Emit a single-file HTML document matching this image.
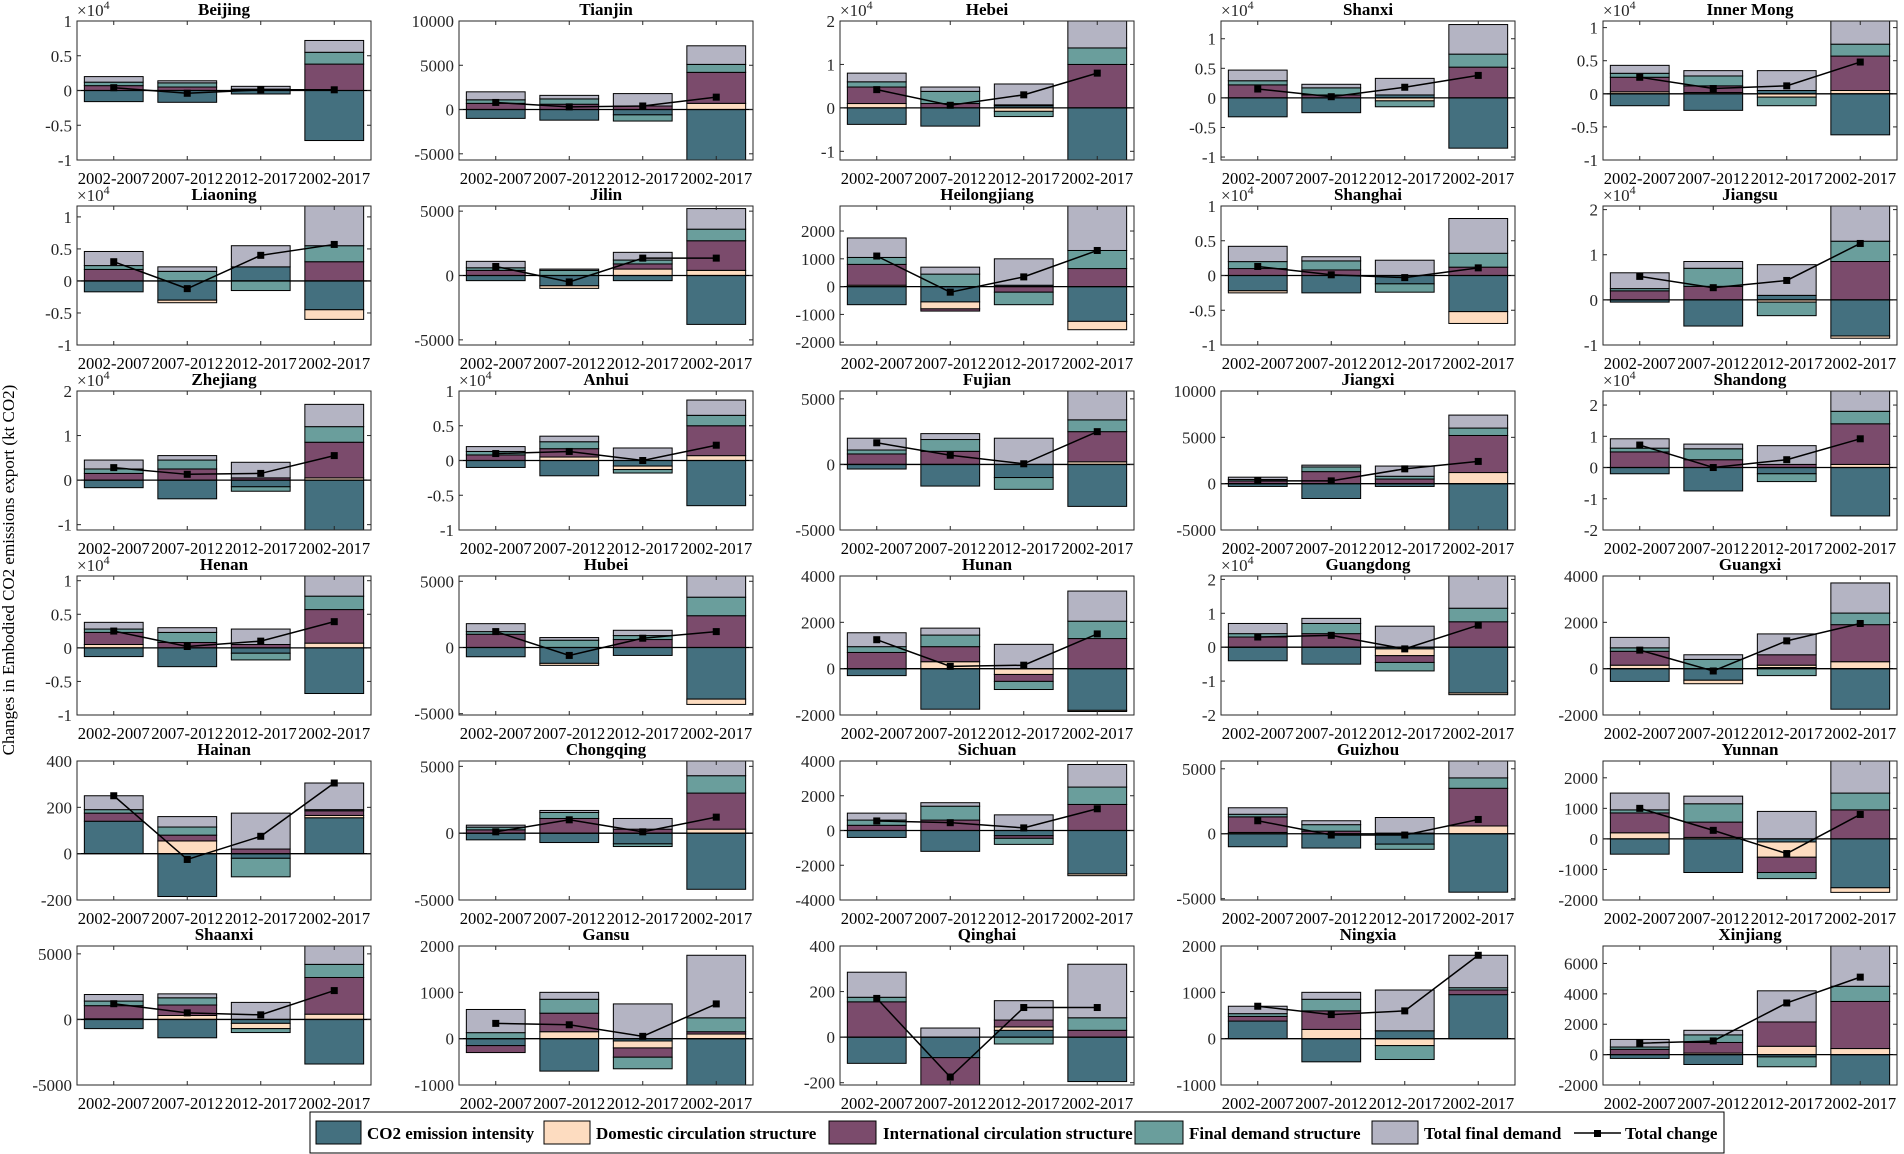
<!DOCTYPE html>
<html><head><meta charset="utf-8">
<style>
html,body{margin:0;padding:0;background:#fff;}
svg{display:block;font-family:"Liberation Serif","Times New Roman",serif;}
</style></head>
<body>
<svg id="chart" width="1904" height="1154" viewBox="0 0 1904 1154" xmlns="http://www.w3.org/2000/svg">
<text transform="translate(14,570) rotate(-90)" text-anchor="middle" font-size="17">Changes in Embodied CO2 emissions export (kt CO2)</text>
<g id="panels"></g>
<g>
<rect x="310" y="1112" width="1414" height="41" fill="#fff" stroke="#000" stroke-width="1"/>
<rect x="316" y="1121" width="45" height="23" fill="#44707f" stroke="#000"/>
<text x="367" y="1139" font-size="17" font-weight="bold">CO2 emission intensity</text>
<rect x="544" y="1121" width="46" height="23" fill="#fddcc0" stroke="#000"/>
<text x="596" y="1139" font-size="17" font-weight="bold">Domestic circulation structure</text>
<rect x="829" y="1121" width="47" height="23" fill="#7b4b6c" stroke="#000"/>
<text x="883" y="1139" font-size="17" font-weight="bold">International circulation structure</text>
<rect x="1135" y="1121" width="48" height="23" fill="#6a9e9c" stroke="#000"/>
<text x="1189" y="1139" font-size="17" font-weight="bold">Final demand structure</text>
<rect x="1372" y="1121" width="46" height="23" fill="#b4b4c3" stroke="#000"/>
<text x="1424" y="1139" font-size="17" font-weight="bold">Total final demand</text>
<line x1="1574" y1="1133" x2="1621" y2="1133" stroke="#000" stroke-width="1.5"/>
<rect x="1594" y="1130" width="7" height="7" fill="#000"/>
<text x="1625" y="1139" font-size="17" font-weight="bold">Total change</text>
</g>
</svg>
<script>
const provinces = ["Beijing","Tianjin","Hebei","Shanxi","Inner Mong","Liaoning","Jilin","Heilongjiang","Shanghai","Jiangsu","Zhejiang","Anhui","Fujian","Jiangxi","Shandong","Henan","Hubei","Hunan","Guangdong","Guangxi","Hainan","Chongqing","Sichuan","Guizhou","Yunnan","Shaanxi","Gansu","Qinghai","Ningxia","Xinjiang"];
const periods = ["2002-2007","2007-2012","2012-2017","2002-2017"];
const yMin = [-1,-5700,-1.2,-1.05,-1, -1,-5400,-2100,-1,-1, -1.12,-1,-5000,-5000,-2, -1,-5100,-2000,-2,-2000, -200,-5000,-4000,-5100,-2000, -5000,-1000,-210,-1000,-2000];
const yMax = [1,10000,2,1.3,1.1, 1.17,5400,2900,1,2.08, 2,1,5600,10000,2.45, 1.07,5400,4000,2.1,4000, 400,5400,4000,5600,2550, 5600,2000,400,2000,7150];
const yTicks = [
 [-1,-0.5,0,0.5,1],[-5000,0,5000,10000],[-1,0,1,2],[-1,-0.5,0,0.5,1],[-1,-0.5,0,0.5,1],
 [-1,-0.5,0,0.5,1],[-5000,0,5000],[-2000,-1000,0,1000,2000],[-1,-0.5,0,0.5,1],[-1,0,1,2],
 [-1,0,1,2],[-1,-0.5,0,0.5,1],[-5000,0,5000],[-5000,0,5000,10000],[-2,-1,0,1,2],
 [-1,-0.5,0,0.5,1],[-5000,0,5000],[-2000,0,2000,4000],[-2,-1,0,1,2],[-2000,0,2000,4000],
 [-200,0,200,400],[-5000,0,5000],[-4000,-2000,0,2000,4000],[-5000,0,5000],[-2000,-1000,0,1000,2000],
 [-5000,0,5000],[-1000,0,1000,2000],[-200,0,200,400],[-1000,0,1000,2000],[-2000,0,2000,4000,6000]];
const useExp = [1,0,1,1,1, 1,0,0,1,1, 1,1,0,0,1, 1,0,0,1,0, 0,0,0,0,0, 0,0,0,0,0];
const co2Values = [
 [-0.16,-0.17,-0.05,-0.72],[-1000,-1200,-600,-5800],[-0.38,-0.42,0.05,-1.3],[-0.32,-0.25,0.05,-0.85],[-0.18,-0.25,0.05,-0.62],
 [-0.17,-0.3,0.22,-0.45],[-400,-800,-400,-3800],[-650,-550,50,-1250],[-0.22,-0.25,-0.12,-0.52],[-0.05,-0.58,0.1,-0.8],
 [-0.17,-0.42,-0.15,-1.15],[-0.1,-0.22,-0.08,-0.65],[-350,-1650,-1000,-3200],[-300,-1600,-300,-5000],[-0.2,-0.75,-0.2,-1.55],
 [-0.13,-0.28,-0.08,-0.68],[-700,-1200,-600,-3900],[-300,-1750,0,-1800],[-0.4,-0.5,-0.05,-1.35],[-550,-500,50,-1750],
 [140,-185,-20,155],[-500,-700,-800,-4200],[-400,-1200,-300,-2500],[-1000,-1100,-800,-4500],[-500,-1100,-100,-1600],
 [-700,-1400,-300,-3400],[-150,-700,-50,-1050],[-115,-90,30,-195],[380,-500,170,950],[-250,-650,-150,-2100]];
const domValues = [
 [0,0,0,0],[0,0,0,700],[0.1,0,-0.08,0],[0,0,-0.05,0],[0.03,0.02,-0.05,0.05],
 [0,-0.04,0,-0.15],[0,-200,500,400],[50,-250,0,-300],[-0.03,0,0,-0.17],[0,0,-0.05,-0.05],
 [0,0,0,0.05],[0,0.05,-0.05,0.07],[0,0,0,200],[0,0,0,1200],[0,0,0,0.1],
 [0.05,0,0,0.07],[0,-150,0,-400],[0,300,-250,-50],[0,0,-0.2,-0.05],[150,-150,100,300],
 [0,55,0,10],[0,0,0,300],[0,0,0,-100],[100,0,0,600],[200,50,-500,-150],
 [50,300,-400,400],[0,150,-150,100],[0,0,15,0],[0,200,-150,0],[0,100,550,400]];
const intlValues = [
 [0.07,0.05,0.01,0.38],[700,600,400,3500],[0.38,0.1,0.02,1.0],[0.22,0.05,0,0.52],[0.22,0.1,0,0.52],
 [0.18,0,0,0.3],[400,0,400,2300],[750,-80,-200,650],[0.1,0.08,0,0.12],[0.2,0.3,0,0.85],
 [0.15,0.25,0.05,0.8],[0.08,0.12,0,0.43],[800,1000,0,2300],[300,1300,500,4000],[0.5,0.25,0.1,1.3],
 [0.18,0.08,0.05,0.5],[1000,0,600,2400],[700,650,-300,1300],[0.3,0.4,-0.2,0.75],[600,0,450,1600],
 [35,25,20,20],[250,1100,300,2700],[300,600,-150,1500],[1200,200,50,2900],[650,500,-500,950],
 [1000,800,0,2800],[-150,400,-200,50],[155,-130,30,30],[100,400,0,100],[350,700,1600,3100]];
const finValues = [
 [0.05,0.06,0.01,0.17],[400,600,-700,900],[0.12,0.28,-0.12,0.38],[0.07,0.12,-0.1,0.22],[0.06,0.15,-0.13,0.18],
 [0.06,0.15,-0.15,0.25],[200,400,300,900],[250,450,-450,650],[0.1,0.13,-0.12,0.2],[0.05,0.4,-0.3,0.45],
 [0.1,0.2,-0.1,0.35],[0.05,0.1,-0.05,0.15],[300,900,-900,900],[150,500,300,800],[0.12,0.35,-0.25,0.4],
 [0.05,0.15,-0.1,0.2],[200,550,300,1400],[250,500,-350,750],[0.1,0.3,-0.25,0.4],[150,400,-300,500],
 [15,35,-80,5],[200,450,-200,1300],[300,800,-350,1000],[200,500,-400,800],[100,600,-200,550],
 [350,550,-300,1000],[130,300,-250,300],[20,0,-30,55],[60,250,-300,50],[150,500,-650,1000]];
const tfdValues = [
 [0.08,0.03,0.04,0.17],[900,400,1400,2100],[0.2,0.1,0.48,0.72],[0.18,0.06,0.28,0.5],[0.12,0.08,0.3,0.35],
 [0.22,0.07,0.33,0.65],[500,100,600,1600],[700,250,950,1600],[0.22,0.06,0.22,0.5],[0.35,0.15,0.68,0.8],
 [0.2,0.1,0.35,0.5],[0.07,0.08,0.18,0.22],[900,450,2000,2300],[250,200,1100,1400],[0.3,0.15,0.6,0.65],
 [0.1,0.07,0.23,0.3],[600,200,400,1700],[600,300,1050,1300],[0.3,0.15,0.62,0.95],[450,200,900,1300],
 [60,45,155,115],[150,150,800,1100],[400,200,900,1300],[500,300,1200,1300],[550,250,900,1050],
 [500,300,1300,1400],[500,150,750,1350],[110,40,85,235],[160,150,880,700],[500,300,2050,2700]];
const totalValues = [
 [0.04,-0.04,0.01,0.01],[800,300,400,1400],[0.42,0.06,0.3,0.8],[0.15,0.02,0.18,0.38],[0.25,0.08,0.12,0.48],
 [0.3,-0.12,0.4,0.57],[700,-500,1350,1350],[1100,-200,350,1300],[0.13,0.01,-0.03,0.11],[0.52,0.27,0.43,1.25],
 [0.28,0.13,0.15,0.55],[0.1,0.13,0.0,0.22],[1650,700,50,2500],[300,300,1600,2400],[0.72,0.0,0.25,0.92],
 [0.25,0.02,0.1,0.39],[1200,-600,700,1200],[1250,100,150,1500],[0.3,0.35,-0.05,0.65],[800,-100,1200,1950],
 [250,-25,75,305],[100,1000,100,1200],[550,450,150,1250],[1000,-100,-100,1100],[1000,280,-480,800],
 [1200,500,350,2200],[330,300,50,750],[170,-175,130,130],[700,520,600,1800],[750,900,3400,5100]];
const componentArrays = [co2Values, domValues, intlValues, finValues, tfdValues];
const colors = ["#44707f","#fddcc0","#7b4b6c","#6a9e9c","#b4b4c3"];
const compNames = ["co2-intensity","domestic-circulation","international-circulation","final-demand-structure","total-final-demand"];

const NS = "http://www.w3.org/2000/svg";
const panelsG = document.getElementById("panels");
const colX = [77,459,840,1221,1603];
const PW = 294, PH = 139;
function mk(tag, attrs, parent){ const e=document.createElementNS(NS,tag); for(const k in attrs) e.setAttribute(k,attrs[k]); if(parent) parent.appendChild(e); return e; }
function fmt(v){ return String(Math.round(v*1000)/1000); }

provinces.forEach((name, p) => {
  const col = p % 5, row = Math.floor(p / 5);
  const L = colX[col], T = 21 + 185*row, R = L + PW, B = T + PH;
  const lo = yMin[p], hi = yMax[p];
  const ys = v => B - (v - lo) / (hi - lo) * PH;
  const xs = c => L + (c + 0.5) / 4 * PW;
  const g = mk("g", {}, panelsG);
  
  
  const cpId = "cp" + p;
  const cp = mk("clipPath", {id: cpId}, g);
  mk("rect", {x: L, y: T, width: PW, height: PH}, cp);
  const plot = mk("g", {"clip-path": "url(#" + cpId + ")"}, g);
  for (let c = 0; c < 4; c++) {
    let pos = 0, neg = 0;
    const bw = 0.8 / 4 * PW;
    componentArrays.forEach((arr, k) => {
      const v = arr[p][c];
      if (v === 0) return;
      let y0, y1;
      if (v > 0) { y0 = pos; y1 = pos + v; pos = y1; } else { y0 = neg; y1 = neg + v; neg = y1; }
      const top = ys(Math.max(y0, y1)), bot = ys(Math.min(y0, y1));
      const r = mk("rect", {x: xs(c) - bw/2, y: top, width: bw, height: Math.max(0.5, bot - top), fill: colors[k], stroke: "#000", "stroke-width": 1}, plot);
      
      
    });
  }
  mk("line", {x1: L, x2: R, y1: ys(0), y2: ys(0), stroke: "#000", "stroke-width": 1.3}, plot);
  const pts = totalValues[p].map((v, c) => xs(c) + "," + ys(v)).join(" ");
  const pl = mk("polyline", {points: pts, fill: "none", stroke: "#000", "stroke-width": 1.5}, plot);
  
  
  totalValues[p].forEach((v, c) => {
    const m = mk("rect", {x: xs(c) - 3.5, y: ys(v) - 3.5, width: 7, height: 7, fill: "#000"}, plot);
    
    
  });
  mk("rect", {x: L, y: T, width: PW, height: PH, fill: "none", stroke: "#262626", "stroke-width": 1}, g);
  yTicks[p].forEach(t => {
    const y = ys(t);
    mk("line", {x1: L, x2: L + 4, y1: y, y2: y, stroke: "#262626"}, g);
    mk("line", {x1: R, x2: R - 4, y1: y, y2: y, stroke: "#262626"}, g);
    const tx = mk("text", {x: L - 5, y: y + 6, "text-anchor": "end", "font-size": 17, fill: "#262626"}, g);
    tx.textContent = fmt(t);
    
    
  });
  periods.forEach((lab, c) => {
    mk("line", {x1: xs(c), x2: xs(c), y1: B, y2: B - 4, stroke: "#262626"}, g);
    mk("line", {x1: xs(c), x2: xs(c), y1: T, y2: T + 4, stroke: "#262626"}, g);
    const tx = mk("text", {x: xs(c), y: B + 24, "text-anchor": "middle", "font-size": 17, fill: "#000", textLength: 72, lengthAdjust: "spacingAndGlyphs"}, g);
    tx.textContent = lab;
    
    
  });
  const ti = mk("text", {x: (L + R) / 2, y: T - 6, "text-anchor": "middle", "font-size": 17, "font-weight": "bold"}, g);
  ti.textContent = name;
  
  
  if (useExp[p]) {
    const ex = mk("text", {x: L, y: T - 5, "font-size": 17, fill: "#262626"}, g);
    
    
    ex.textContent = "×10";
    const sup = mk("tspan", {dy: -7, "font-size": 12}, ex);
    sup.textContent = "4";
  }
});
</script>
</body></html>
